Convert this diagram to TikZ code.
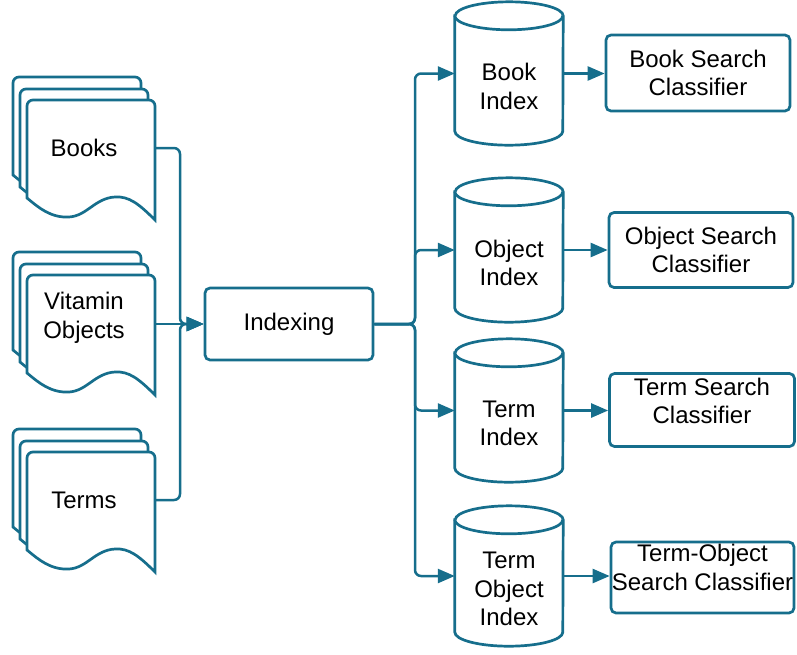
\documentclass[tikz,border=0pt]{standalone}
\usepackage{fontspec}
\setmainfont{Liberation Sans}
\usetikzlibrary{arrows.meta}
\definecolor{flow}{RGB}{22,110,140}

% one sheet of a document stack, top-left corner at (#1,#2)
\newcommand\docsheet[2]{%
  \draw[sheet] (#1,#2) ++(0,98) [rounded corners=6pt] -- ++(0,-98) -- ++(128,0)
    [sharp corners] -- ++(0,120)
    .. controls +(-16,-16) and +(14,-1) .. ++(-40,-23)
    .. controls +(-20,1) and +(18,-1) .. ++(-46,20)
    .. controls +(-18,1) and +(12,10) .. ++(-42,-19) -- cycle;}

% a stack of three sheets, front sheet top-left at (#1,#2)
\newcommand\docstack[2]{%
  \docsheet{\the\numexpr#1-14\relax}{\the\numexpr#2-23\relax}
  \docsheet{\the\numexpr#1-7\relax}{\the\numexpr#2-11\relax}
  \docsheet{#1}{#2}}

% database cylinder: name, centre x, centre y, height, text
\newcommand\database[5]{%
  \node[dbnode, minimum height=#4] (#1) at (#2,#3) {};
  \draw[sheet] ([yshift=-14pt]#1.north west) -- ([yshift=14pt]#1.south west)
    arc[start angle=180, end angle=360, x radius=54pt, y radius=14pt]
    -- ([yshift=-14pt]#1.north east)
    arc[start angle=0, end angle=180, x radius=54pt, y radius=14pt] -- cycle;
  \draw[sheet] ([yshift=-14pt]#1.north west)
    arc[start angle=180, end angle=360, x radius=54pt, y radius=14pt];
  \node[lbl] (#1-text) at ([yshift=-13pt]#1.center) {#5};}

\begin{document}
\begin{tikzpicture}[x=1pt, y=-1pt,
  sheet/.style={draw=flow, line width=2.7pt, fill=white},
  lbl/.style={font=\fontsize{24}{28.5}\selectfont, align=center, inner sep=0pt, text=black},
  box/.style={lbl, draw=flow, line width=2.7pt, rounded corners=5pt, fill=white},
  dbnode/.style={minimum width=108pt, inner sep=0pt},
  conn/.style={draw=flow, line width=2.5pt, rounded corners=6pt,
    -{Triangle[length=17pt, width=14pt]}}]
\useasboundingbox (0,0) rectangle (797,654);

% source documents
\docstack{27}{100}
\node[lbl] (books) at (84,148) {Books};
\coordinate (booksout) at (155,148);

\docstack{27}{275}
\node[lbl] (vitamin) at (84,318) {Vitamin\\Objects};
\coordinate (vitaminout) at (155,324);

\docstack{27}{452}
\node[lbl] (terms) at (84,500) {Terms};
\coordinate (termsout) at (155,500);

% indexing step
\node[box, minimum width=168pt, minimum height=72pt] (idx) at (289,324) {Indexing};
\coordinate (merge) at (180,324);
\coordinate (fork) at (415,324);

% indexes
\database{bidx}{509}{73.5}{143pt}{Book\\Index}
\database{oidx}{509}{250}{144pt}{Object\\Index}
\database{tidx}{509}{410.5}{143pt}{Term\\Index}
\database{toidx}{509}{576}{140pt}{Term\\Object\\Index}

% classifiers
\node[box, minimum width=184pt, minimum height=76pt] (bsc) at (698,73) {Book Search\\Classifier};
\node[box, minimum width=184pt, minimum height=75pt] (osc) at (701,250) {Object Search\\Classifier};
\node[box, minimum width=185pt, minimum height=73pt,
  label={[lbl, yshift=9pt]center:Term Search\\Classifier}] (tsc) at (702,410) {};
\node[box, minimum width=183pt, minimum height=71pt,
  label={[lbl, yshift=10pt]center:Term-Object\\Search Classifier}] (tosc) at (702.5,577.5) {};

% connectors into indexing
\draw[conn] (booksout) -| (merge) -- (idx.west);
\draw[conn] (termsout) -| (merge) -- (idx.west);
\draw[conn] (vitaminout) -- (idx.west);

% indexing fans out to the indexes
\draw[conn] (idx.east) -- (fork) |- (bidx.west);
\draw[conn] (idx.east) -- (fork) |- (oidx.west);
\draw[conn] (idx.east) -- (fork) |- (tidx.west);
\draw[conn] (idx.east) -- (fork) |- (toidx.west);

% indexes feed the classifiers
\draw[conn] (bidx.east) -- (bidx.east -| bsc.west);
\draw[conn] (oidx.east) -- (oidx.east -| osc.west);
\draw[conn] (tidx.east) -- (tidx.east -| tsc.west);
\draw[conn] (toidx.east) -- (toidx.east -| tosc.west);
\end{tikzpicture}
\end{document}
